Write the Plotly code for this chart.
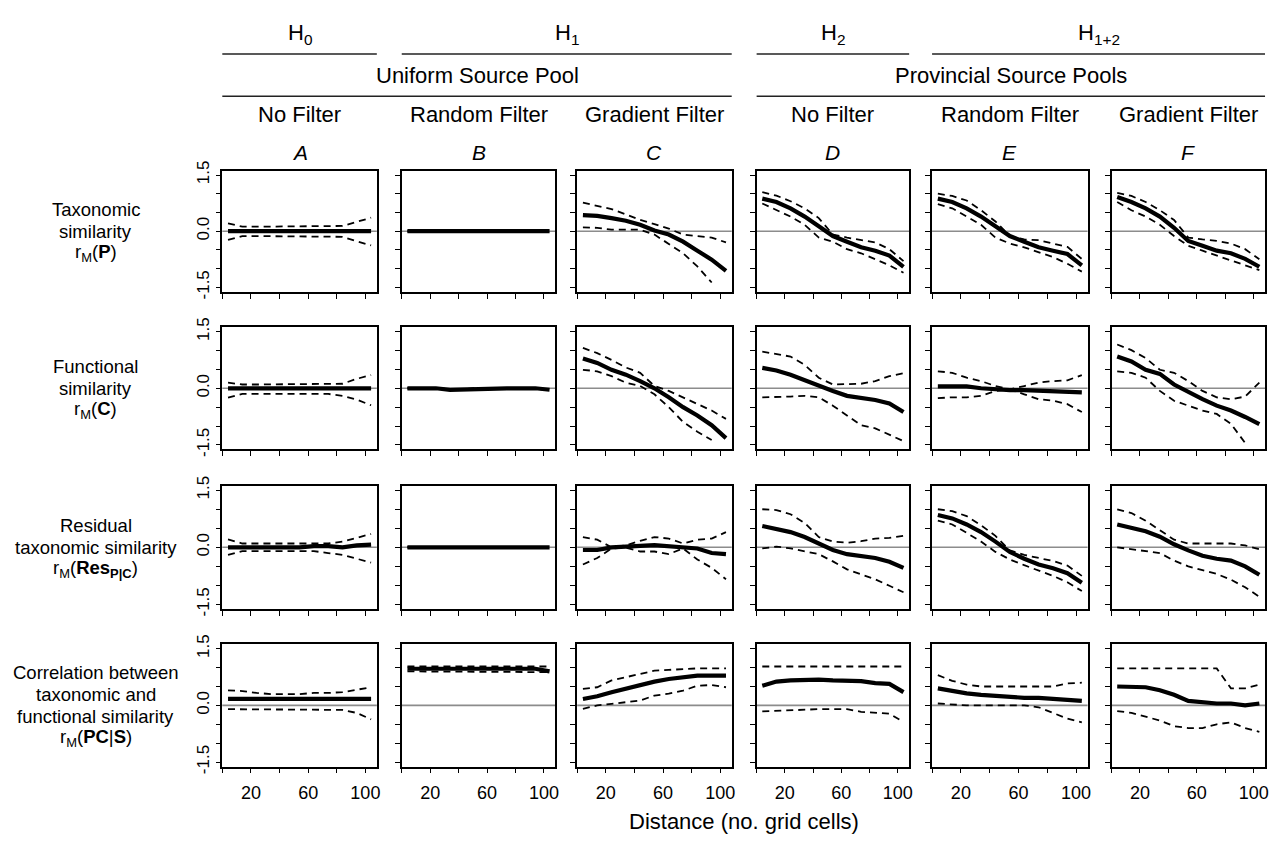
import plotly.graph_objects as go

# ---------------- data ----------------
distance = [4, 14, 24, 34, 44, 54, 64, 74, 84, 94, 104]
columns = ["A", "B", "C", "D", "E", "F"]
x_tick_vals = [20, 60, 100]
x_tick_text = ["20", "60", "100"]
y_tick_vals = [-1.5, 0.0, 1.5]
y_tick_text = ["-1.5", "0.0", "1.5"]

# Row 1: taxonomic similarity r_M(P)
tax_mean = {
    "A": [0, 0, 0, 0, 0, 0, 0, 0, 0, 0, 0],
    "B": [0, 0, 0, 0, 0, 0, 0, 0, 0, 0, 0],
    "C": [0.43, 0.41, 0.35, 0.28, 0.17, 0.02, -0.09, -0.28, -0.52, -0.76, -1.06],
    "D": [0.87, 0.78, 0.61, 0.39, 0.13, -0.13, -0.28, -0.43, -0.52, -0.65, -0.95],
    "E": [0.87, 0.78, 0.61, 0.39, 0.13, -0.13, -0.28, -0.43, -0.52, -0.61, -0.91],
    "F": [0.91, 0.78, 0.61, 0.39, 0.09, -0.26, -0.39, -0.52, -0.59, -0.74, -0.95],
}
tax_upper = {
    "A": [0.21, 0.12, 0.12, 0.12, 0.12, 0.12, 0.12, 0.12, 0.14, 0.25, 0.36],
    "B": [0.01, 0.01, 0.01, 0.01, 0.01, 0.01, 0.01, 0.01, 0.01, 0.01, 0.01],
    "C": [0.76, 0.68, 0.59, 0.45, 0.30, 0.19, 0.07, -0.09, -0.13, -0.17, -0.30],
    "D": [1.04, 0.95, 0.80, 0.61, 0.35, -0.09, -0.17, -0.24, -0.30, -0.48, -0.80],
    "E": [1.00, 0.94, 0.82, 0.56, 0.26, -0.13, -0.22, -0.24, -0.33, -0.42, -0.74],
    "F": [1.02, 0.94, 0.78, 0.56, 0.30, -0.17, -0.22, -0.26, -0.33, -0.48, -0.75],
}
tax_lower = {
    "A": [-0.23, -0.13, -0.13, -0.13, -0.13, -0.13, -0.13, -0.13, -0.15, -0.27, -0.38],
    "B": [-0.01, -0.01, -0.01, -0.01, -0.01, -0.01, -0.01, -0.01, -0.01, -0.01, -0.01],
    "C": [0.10, 0.09, 0.04, 0.04, 0.04, -0.09, -0.35, -0.59, -0.94, -1.37, None],
    "D": [0.74, 0.56, 0.39, 0.17, -0.17, -0.28, -0.48, -0.59, -0.76, -0.91, -1.11],
    "E": [0.72, 0.61, 0.39, 0.17, -0.17, -0.33, -0.43, -0.56, -0.69, -0.87, -1.08],
    "F": [0.78, 0.56, 0.39, 0.17, -0.13, -0.39, -0.52, -0.65, -0.78, -0.91, -1.04],
}

# Row 2: functional similarity r_M(C)
fun_mean = {
    "A": [0, 0, 0, 0, 0, 0, 0, 0, 0, 0, 0],
    "B": [0, 0, 0, -0.04, -0.03, 0, 0, 0, 0, 0, -0.04],
    "C": [0.79, 0.67, 0.49, 0.36, 0.19, 0.00, -0.24, -0.50, -0.72, -0.98, -1.32],
    "D": [0.54, 0.47, 0.36, 0.21, 0.06, -0.07, -0.20, -0.26, -0.31, -0.40, -0.63],
    "E": [0.05, 0.05, 0.05, 0.00, -0.03, -0.05, -0.05, -0.07, -0.09, -0.09, -0.11],
    "F": [0.84, 0.71, 0.49, 0.38, 0.10, -0.11, -0.29, -0.46, -0.59, -0.76, -0.95],
}
fun_upper = {
    "A": [0.15, 0.10, 0.10, 0.10, 0.10, 0.10, 0.10, 0.10, 0.12, 0.25, 0.35],
    "B": [0.01, 0.01, 0.01, -0.03, -0.02, 0.01, 0.01, 0.01, 0.01, 0.01, -0.03],
    "C": [1.07, 0.93, 0.75, 0.55, 0.41, 0.06, -0.07, -0.24, -0.42, -0.59, -0.81],
    "D": [0.97, 0.90, 0.84, 0.62, 0.28, 0.10, 0.12, 0.12, 0.19, 0.32, 0.40],
    "E": [0.45, 0.41, 0.28, 0.19, 0.06, -0.03, 0.06, 0.15, 0.19, 0.21, 0.35],
    "F": [1.16, 1.01, 0.80, 0.49, 0.41, 0.19, -0.07, -0.24, -0.29, -0.22, 0.15],
}
fun_lower = {
    "A": [-0.25, -0.15, -0.15, -0.15, -0.15, -0.15, -0.15, -0.15, -0.20, -0.30, -0.45],
    "B": [-0.01, -0.01, -0.01, -0.05, -0.04, -0.01, -0.01, -0.01, -0.01, -0.01, -0.05],
    "C": [0.49, 0.45, 0.32, 0.15, 0.06, -0.16, -0.50, -0.89, -1.15, -1.37, None],
    "D": [-0.24, -0.24, -0.22, -0.20, -0.24, -0.46, -0.72, -0.98, -1.06, -1.24, -1.40],
    "E": [-0.26, -0.24, -0.24, -0.20, -0.07, -0.03, -0.16, -0.29, -0.33, -0.42, -0.63],
    "F": [0.45, 0.41, 0.28, -0.07, -0.33, -0.46, -0.59, -0.68, -0.94, -1.45, None],
}

# Row 3: residual taxonomic similarity r_M(Res_P|C)
res_mean = {
    "A": [0, 0, 0, 0, 0, 0, 0.03, 0.03, 0, 0.05, 0.07],
    "B": [0, 0, 0, 0, 0, 0, 0, 0, 0, 0, 0],
    "C": [-0.07, -0.07, 0.00, 0.03, 0.04, 0.06, 0.03, 0.02, -0.03, -0.15, -0.18],
    "D": [0.56, 0.49, 0.40, 0.27, 0.10, -0.07, -0.18, -0.24, -0.28, -0.38, -0.54],
    "E": [0.85, 0.76, 0.60, 0.40, 0.15, -0.12, -0.30, -0.45, -0.55, -0.68, -0.93],
    "F": [0.60, 0.52, 0.42, 0.28, 0.08, -0.08, -0.22, -0.30, -0.35, -0.50, -0.72],
}
res_upper = {
    "A": [0.21, 0.10, 0.10, 0.10, 0.10, 0.10, 0.10, 0.10, 0.15, 0.25, 0.35],
    "B": [0.01, 0.01, 0.01, 0.01, 0.01, 0.01, 0.01, 0.01, 0.01, 0.01, 0.01],
    "C": [0.27, 0.20, 0.00, 0.05, 0.17, 0.27, 0.23, 0.10, 0.20, 0.23, 0.40],
    "D": [1.00, 0.98, 0.87, 0.64, 0.27, 0.15, 0.12, 0.16, 0.23, 0.25, 0.30],
    "E": [1.00, 0.95, 0.82, 0.58, 0.30, -0.08, -0.20, -0.28, -0.36, -0.48, -0.75],
    "F": [1.00, 0.90, 0.70, 0.45, 0.20, 0.10, 0.10, 0.10, 0.10, 0.05, -0.05],
}
res_lower = {
    "A": [-0.20, -0.10, -0.10, -0.10, -0.10, -0.10, -0.10, -0.15, -0.20, -0.30, -0.40],
    "B": [-0.01, -0.01, -0.01, -0.01, -0.01, -0.01, -0.01, -0.01, -0.01, -0.01, -0.01],
    "C": [-0.45, -0.28, -0.03, -0.01, -0.11, -0.11, -0.18, -0.03, -0.32, -0.54, -0.84],
    "D": [-0.03, 0.02, -0.03, -0.11, -0.18, -0.37, -0.58, -0.71, -0.84, -1.01, -1.18],
    "E": [0.70, 0.60, 0.38, 0.15, -0.12, -0.32, -0.47, -0.60, -0.75, -0.92, -1.15],
    "F": [0.00, -0.05, -0.10, -0.15, -0.35, -0.50, -0.60, -0.70, -0.85, -1.05, -1.30],
}

# Row 4: correlation between taxonomic and functional similarity r_M(PC|S)
cor_mean = {
    "A": [0.17, 0.17, 0.17, 0.17, 0.17, 0.17, 0.17, 0.17, 0.17, 0.17, 0.17],
    "B": [0.97, 0.97, 0.97, 0.97, 0.97, 0.97, 0.97, 0.97, 0.97, 0.97, 0.90],
    "C": [0.17, 0.24, 0.35, 0.45, 0.54, 0.63, 0.70, 0.74, 0.79, 0.79, 0.79],
    "D": [0.52, 0.63, 0.66, 0.67, 0.68, 0.66, 0.65, 0.64, 0.59, 0.57, 0.35],
    "E": [0.45, 0.38, 0.32, 0.28, 0.25, 0.22, 0.20, 0.20, 0.18, 0.15, 0.12],
    "F": [0.50, 0.50, 0.48, 0.40, 0.28, 0.12, 0.08, 0.05, 0.05, 0.00, 0.05],
}
cor_upper = {
    "A": [0.40, 0.38, 0.33, 0.30, 0.30, 0.30, 0.33, 0.33, 0.35, 0.42, 0.48],
    "B": [1.03, 1.03, 1.03, 1.03, 1.03, 1.03, 1.03, 1.03, 1.03, 1.03, 1.03],
    "C": [0.44, 0.48, 0.66, 0.74, 0.83, 0.92, 0.94, 0.96, 0.98, 0.98, 0.98],
    "D": [1.03, 1.03, 1.03, 1.03, 1.03, 1.03, 1.03, 1.03, 1.03, 1.03, 1.03],
    "E": [0.80, 0.65, 0.55, 0.50, 0.50, 0.50, 0.50, 0.50, 0.50, 0.58, 0.60],
    "F": [0.98, 0.98, 0.98, 0.98, 0.98, 0.98, 0.98, 0.98, 0.45, 0.45, 0.55],
}
cor_lower = {
    "A": [-0.10, -0.10, -0.10, -0.10, -0.10, -0.10, -0.10, -0.10, -0.12, -0.20, -0.37],
    "B": [0.90, 0.90, 0.90, 0.90, 0.90, 0.90, 0.90, 0.90, 0.90, 0.90, 0.88],
    "C": [-0.09, 0.00, 0.04, 0.09, 0.13, 0.26, 0.31, 0.39, 0.52, 0.54, 0.48],
    "D": [-0.16, -0.14, -0.12, -0.10, -0.10, -0.10, -0.10, -0.17, -0.20, -0.22, -0.44],
    "E": [0.05, 0.02, 0.00, 0.00, 0.00, 0.00, 0.00, -0.05, -0.20, -0.35, -0.45],
    "F": [-0.15, -0.20, -0.30, -0.40, -0.55, -0.60, -0.60, -0.50, -0.45, -0.60, -0.70],
}

rows_data = [
    (tax_mean, tax_upper, tax_lower),
    (fun_mean, fun_upper, fun_lower),
    (res_mean, res_upper, res_lower),
    (cor_mean, cor_upper, cor_lower),
]

row_label_lines = [
    ["Taxonomic", "similarity", "r<sub>M</sub>(<b>P</b>)"],
    ["Functional", "similarity", "r<sub>M</sub>(<b>C</b>)"],
    ["Residual", "taxonomic similarity", "r<sub>M</sub>(<b>Res<sub>P|C</sub></b>)"],
    ["Correlation between", "taxonomic and", "functional similarity",
     "r<sub>M</sub>(<b>PC</b>|<b>S</b>)"],
]
filter_labels = ["No Filter", "Random Filter", "Gradient Filter",
                 "No Filter", "Random Filter", "Gradient Filter"]
hyp_labels = [("H<sub>0</sub>", 0, 0), ("H<sub>1</sub>", 1, 2),
              ("H<sub>2</sub>", 3, 3), ("H<sub>1+2</sub>", 4, 5)]
pool_labels = [("Uniform Source Pool", 0, 2), ("Provincial Source Pools", 3, 5)]
x_title = "Distance (no. grid cells)"

# ---------------- layout geometry (pixels) ----------------
W, H = 1281, 846
col_px = [(223, 378), (403, 557), (579, 734), (759, 912), (935, 1091), (1115, 1269)]
row_px = [(164, 288), (324, 449), (486, 612), (648, 773)]
FONT = "Liberation Sans, Arial, Helvetica, sans-serif"
LINE_GAP = 22.5


def px(x):
    return x / W


def py(y):
    return 1 - y / H


fig = go.Figure()
layout = dict(
    width=W, height=H,
    margin=dict(l=0, r=0, t=0, b=0),
    paper_bgcolor="white", plot_bgcolor="white",
    showlegend=False,
    font=dict(family=FONT, color="black", size=16),
)
shapes = []
annotations = []

for r, (mean_d, up_d, lo_d) in enumerate(rows_data):
    for c, col in enumerate(columns):
        k = r * 6 + c + 1
        xa = "x" if k == 1 else f"x{k}"
        ya = "y" if k == 1 else f"y{k}"
        xkey = "xaxis" if k == 1 else f"xaxis{k}"
        ykey = "yaxis" if k == 1 else f"yaxis{k}"
        x0, x1 = col_px[c]
        y0, y1 = row_px[r]
        layout[xkey] = dict(
            domain=[px(x0), px(x1)], anchor=ya, range=[0, 108],
            tickmode="array", tickvals=x_tick_vals, ticktext=x_tick_text,
            showticklabels=(r == 3), ticks="outside", ticklen=5, tickwidth=1,
            tickcolor="black",
            minor=dict(ticks="outside", ticklen=5, tickwidth=1, tickcolor="black",
                       tick0=0, dtick=20, showgrid=False),
            showline=True, mirror=True, linecolor="black",
            linewidth=1.5, showgrid=False, zeroline=False,
            tickfont=dict(size=18, family=FONT), ticklabelstandoff=4,
        )
        layout[ykey] = dict(
            domain=[py(y1), py(y0)], anchor=xa, range=[-1.62, 1.62],
            tickmode="array", tickvals=y_tick_vals, ticktext=y_tick_text,
            showticklabels=(c == 0), tickangle=-90, ticks="outside", ticklen=5,
            tickwidth=1, tickcolor="black",
            minor=dict(ticks="outside", ticklen=5, tickwidth=1, tickcolor="black",
                       tick0=0, dtick=0.5, showgrid=False),
            showline=True, mirror=True,
            linecolor="black", linewidth=1.5, showgrid=False, zeroline=False,
            tickfont=dict(size=17, family=FONT),
        )
        shapes.append(dict(type="line", xref=f"{xa} domain", yref=ya,
                           x0=0, x1=1, y0=0, y1=0, layer="below",
                           line=dict(color="#8c8c8c", width=1.6)))
        for series in (up_d, lo_d):
            fig.add_trace(go.Scatter(
                x=distance, y=series[col], xaxis=xa, yaxis=ya, mode="lines",
                line=dict(color="black", width=1.8, dash="7px,5px"),
                connectgaps=False, hoverinfo="skip"))
        fig.add_trace(go.Scatter(
            x=distance, y=mean_d[col], xaxis=xa, yaxis=ya, mode="lines",
            line=dict(color="black", width=4.2), hoverinfo="skip"))

# column letters and filter labels
for c, col in enumerate(columns):
    xc = (col_px[c][0] + col_px[c][1]) / 2
    annotations.append(dict(text=f"<i>{col}</i>", x=px(xc), y=py(146),
                            xref="paper", yref="paper", showarrow=False,
                            xanchor="center", yanchor="middle",
                            font=dict(size=21, family=FONT)))
    annotations.append(dict(text=filter_labels[c], x=px(xc), y=py(107),
                            xref="paper", yref="paper", showarrow=False,
                            xanchor="center", yanchor="middle",
                            font=dict(size=22, family=FONT)))

# hypothesis labels and lines
for text, c0, c1 in hyp_labels:
    xl, xr = col_px[c0][0], col_px[c1][1]
    annotations.append(dict(text=text, x=px((xl + xr) / 2), y=py(25),
                            xref="paper", yref="paper", showarrow=False,
                            xanchor="center", yanchor="middle",
                            font=dict(size=22, family=FONT)))
    shapes.append(dict(type="line", xref="paper", yref="paper",
                       x0=px(xl), x1=px(xr), y0=py(45), y1=py(45),
                       line=dict(color="#222222", width=1.5)))

# source pool labels and lines
for text, c0, c1 in pool_labels:
    xl, xr = col_px[c0][0], col_px[c1][1]
    annotations.append(dict(text=text, x=px((xl + xr) / 2), y=py(67),
                            xref="paper", yref="paper", showarrow=False,
                            xanchor="center", yanchor="middle",
                            font=dict(size=22, family=FONT)))
    shapes.append(dict(type="line", xref="paper", yref="paper",
                       x0=px(xl), x1=px(xr), y0=py(88), y1=py(88),
                       line=dict(color="#222222", width=1.5)))

# row labels, one annotation per line for tight spacing
for r, lines in enumerate(row_label_lines):
    yc = (row_px[r][0] + row_px[r][1]) / 2
    n = len(lines)
    for i, line in enumerate(lines):
        yl = yc + (i - (n - 1) / 2) * LINE_GAP
        annotations.append(dict(text=line, x=px(96), y=py(yl), xref="paper",
                                yref="paper", showarrow=False, xanchor="center",
                                yanchor="middle", align="center",
                                font=dict(size=18.5, family=FONT)))

# x axis title
annotations.append(dict(text=x_title, x=px((col_px[0][0] + col_px[5][1]) / 2),
                        y=py(829), xref="paper", yref="paper", showarrow=False,
                        xanchor="center", yanchor="middle",
                        font=dict(size=22, family=FONT)))

layout["shapes"] = shapes
layout["annotations"] = annotations
fig.update_layout(**layout)
fig.write_html("out.html")
